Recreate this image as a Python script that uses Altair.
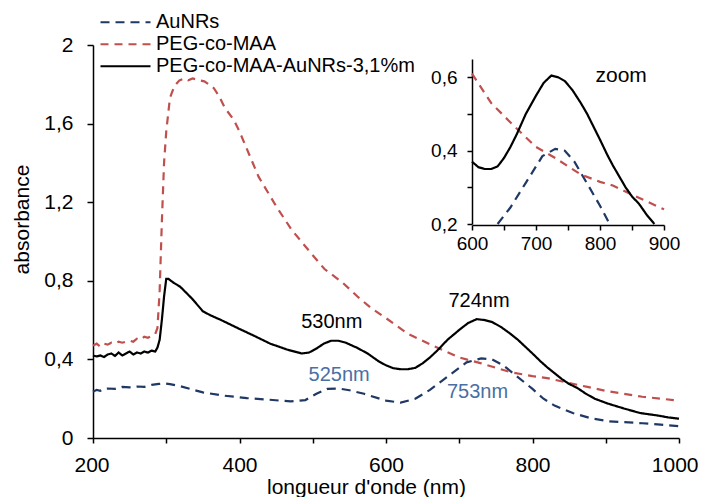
import altair as alt
import pandas as pd

series_names = ["AuNRs", "PEG-co-MAA", "PEG-co-MAA-AuNRs-3,1%m"]
series_colors = ["#1F3864", "#C0504D", "#000000"]

aunrs_nm = [200, 205, 210, 215, 220, 230, 240, 250, 260, 270, 280, 290, 297, 305, 320, 350, 380,
            410, 440, 470, 490, 505, 520, 535, 550, 570, 600, 620, 640, 660, 685, 710, 730,
            745, 760, 780, 800, 815, 830, 855, 880, 905, 950, 975, 1000]
aunrs_abs = [0.235, 0.245, 0.24, 0.25, 0.252, 0.25, 0.26, 0.258, 0.262, 0.26, 0.27, 0.275, 0.278,
             0.274, 0.263, 0.232, 0.215, 0.203, 0.195, 0.186, 0.193, 0.225, 0.25, 0.252, 0.243,
             0.225, 0.19, 0.18, 0.20, 0.245, 0.315, 0.385, 0.405, 0.40, 0.37, 0.31, 0.25, 0.20,
             0.165, 0.127, 0.10, 0.085, 0.075, 0.068, 0.06]

peg_nm = [200, 205, 210, 215, 220, 225, 230, 235, 240, 245, 250, 255, 260, 265, 270, 275, 280,
          285, 288, 291, 294, 297, 300, 305, 311, 318, 325, 330, 336, 345, 352, 358, 365, 372,
          380, 392, 400, 426, 450, 471, 500, 516, 541, 561, 580, 600, 630, 664, 700, 730, 770,
          800, 820, 850, 875, 900, 950, 1000]
peg_abs = [0.47, 0.48, 0.465, 0.48, 0.475, 0.485, 0.48, 0.49, 0.485, 0.49, 0.495, 0.49, 0.505,
           0.50, 0.515, 0.51, 0.52, 0.53, 0.56, 0.75, 1.1, 1.4, 1.56, 1.73, 1.79, 1.82, 1.83,
           1.82, 1.83, 1.82, 1.815, 1.80, 1.78, 1.74, 1.68, 1.62, 1.56, 1.33, 1.18, 1.06, 0.93,
           0.86, 0.79, 0.72, 0.66, 0.61, 0.53, 0.47, 0.41, 0.38, 0.335, 0.315, 0.305, 0.28,
           0.26, 0.24, 0.21, 0.19]

hyb_nm = [200, 205, 210, 215, 220, 225, 230, 235, 240, 245, 250, 255, 260, 265, 270, 275, 280,
          285, 288, 291, 294, 297, 300, 303, 310, 319, 335, 350, 360, 375, 400, 420, 442, 465,
          485, 495, 505, 515, 525, 535, 545, 560, 575, 590, 600, 610, 620, 630, 640, 650, 660,
          670, 684, 700, 712, 724, 735, 745, 757, 770, 780, 790, 800, 811, 820, 830, 840, 850,
          861, 873, 885, 903, 925, 947, 970, 985, 1000]
hyb_abs = [0.42, 0.415, 0.42, 0.412, 0.425, 0.43, 0.418, 0.435, 0.42, 0.43, 0.44, 0.425, 0.435,
           0.43, 0.44, 0.435, 0.445, 0.44, 0.46, 0.50, 0.60, 0.72, 0.81, 0.81, 0.79, 0.77, 0.71,
           0.645, 0.625, 0.60, 0.555, 0.52, 0.48, 0.45, 0.43, 0.435, 0.455, 0.48, 0.495, 0.495,
           0.485, 0.46, 0.43, 0.39, 0.37, 0.355, 0.35, 0.35, 0.357, 0.38, 0.41, 0.445, 0.50,
           0.55, 0.585, 0.605, 0.60, 0.59, 0.565, 0.53, 0.50, 0.465, 0.43, 0.39, 0.36, 0.33,
           0.30, 0.275, 0.255, 0.225, 0.20, 0.175, 0.15, 0.127, 0.115, 0.105, 0.098]

ann_text = ["530nm", "724nm", "525nm", "753nm"]
ann_nm = [526, 727, 536, 725]
ann_abs = [0.588, 0.698, 0.32, 0.236]
ann_color = ["#000000", "#000000", "#4A6FA5", "#4A6FA5"]

zoom_text = ["zoom"]
zoom_nm = [833]
zoom_abs = [0.605]

main_x_ticks = list(range(200, 1001, 50))
main_y_ticks = [0.0, 0.2, 0.4, 0.6, 0.8, 1.0, 1.2, 1.4, 1.6, 1.8, 2.0]
inset_x_ticks = list(range(600, 901, 50))
inset_y_ticks = [0.2, 0.3, 0.4, 0.5, 0.6]

rows = []
for name, xs, ys in zip(series_names, [aunrs_nm, peg_nm, hyb_nm], [aunrs_abs, peg_abs, hyb_abs]):
    for x, y in zip(xs, ys):
        rows.append({"series": name, "nm": x, "abs": y})
df = pd.DataFrame(rows)

ann_df = pd.DataFrame({"label": ann_text, "nm": ann_nm, "abs": ann_abs, "c": ann_color})
zoom_df = pd.DataFrame({"label": zoom_text, "nm": zoom_nm, "abs": zoom_abs})

FONT = "Liberation Sans"
W, H = 586, 393

legend = alt.Legend(
    title=None, orient="none", legendX=6, legendY=-33.5,
    symbolType="stroke", symbolSize=2500, symbolStrokeWidth=2,
    labelFont=FONT, labelFontSize=20, labelColor="black", labelOffset=4,
    labelLimit=0, clipHeight=21.5, rowPadding=0,
)
color_enc = alt.Color("series:N", scale=alt.Scale(domain=series_names, range=series_colors),
                      legend=legend, sort=series_names)
dash_enc = alt.StrokeDash("series:N",
                          scale=alt.Scale(domain=series_names, range=[[9, 6], [8, 6], [1, 0]]),
                          legend=legend, sort=series_names)
width_enc = alt.StrokeWidth("series:N",
                            scale=alt.Scale(domain=series_names, range=[2.2, 2.2, 2.5]),
                            legend=None)

main_x = alt.X("nm:Q", scale=alt.Scale(domain=[200, 1000], nice=False, zero=False),
               axis=alt.Axis(values=main_x_ticks,
                             labelExpr="datum.value % 200 == 0 ? format(datum.value, 'd') : ''",
                             title="longueur d'onde (nm)", tickSize=5, labelPadding=11,
                             labelFlush=True, labelFlushOffset=19,
                             titleX=273, titleY=55, titleBaseline="alphabetic"))
main_y = alt.Y("abs:Q", scale=alt.Scale(domain=[0, 2], nice=False),
               axis=alt.Axis(values=main_y_ticks,
                             labelExpr="round(datum.value*10) % 4 == 0 ? replace(format(datum.value, '~g'), '.', ',') : ''",
                             title="absorbance", tickSize=6, labelPadding=14, labelFlush=False,
                             titleX=-65, titleY=174, titleBaseline="alphabetic"))

main_lines = alt.Chart(df).mark_line().encode(
    x=main_x, y=main_y, color=color_enc, strokeDash=dash_enc, strokeWidth=width_enc)
main_text = alt.Chart(ann_df).mark_text(font=FONT, fontSize=20, baseline="middle").encode(
    x="nm:Q", y="abs:Q", text="label:N", fill=alt.Fill("c:N", scale=None, legend=None))
main_layer = alt.layer(main_lines, main_text)

inset_x = alt.X("nm:Q", scale=alt.Scale(domain=[600, 900], range=[379, 571], nice=False, zero=False),
                axis=alt.Axis(orient="bottom", offset=-213, values=inset_x_ticks,
                              labelExpr="datum.value % 100 == 0 ? format(datum.value, 'd') : ''",
                              title=None, tickSize=5, labelPadding=4, labelFontSize=19,
                              labelFlush=False))
inset_y = alt.Y("abs:Q", scale=alt.Scale(domain=[0.2, 0.65], range=[179, 14], nice=False, zero=False),
                axis=alt.Axis(orient="left", offset=-379, values=inset_y_ticks,
                              labelExpr="round(datum.value*10) % 2 == 0 ? replace(format(datum.value, '~g'), '.', ',') : ''",
                              title=None, tickSize=5, labelPadding=10, labelFontSize=19,
                              labelFlush=False))

inset_lines = alt.Chart(df).transform_filter(
    "datum.nm >= 600 && datum.nm <= 900 && datum.abs >= 0.2"
).mark_line().encode(x=inset_x, y=inset_y, color=color_enc, strokeDash=dash_enc,
                     strokeWidth=width_enc)
inset_text = alt.Chart(zoom_df).mark_text(font=FONT, fontSize=21, baseline="middle", color="black").encode(
    x="nm:Q", y="abs:Q", text="label:N")
inset_layer = alt.layer(inset_lines, inset_text)

chart = alt.layer(main_layer, inset_layer).resolve_scale(
    x="independent", y="independent"
).properties(
    width=W, height=H,
    autosize=alt.AutoSizeParams(type="none"),
    padding={"left": 85, "top": 37, "right": 20, "bottom": 59},
).configure_view(strokeWidth=0).configure_axis(
    grid=False, labelFont=FONT, titleFont=FONT, labelFontSize=21, titleFontSize=21,
    titleFontWeight="normal", labelColor="black", titleColor="black",
    domainColor="black", tickColor="black", domainWidth=1.5, tickWidth=1.5,
)

chart.save("out.html", embed_options={"renderer": "svg", "actions": False})
